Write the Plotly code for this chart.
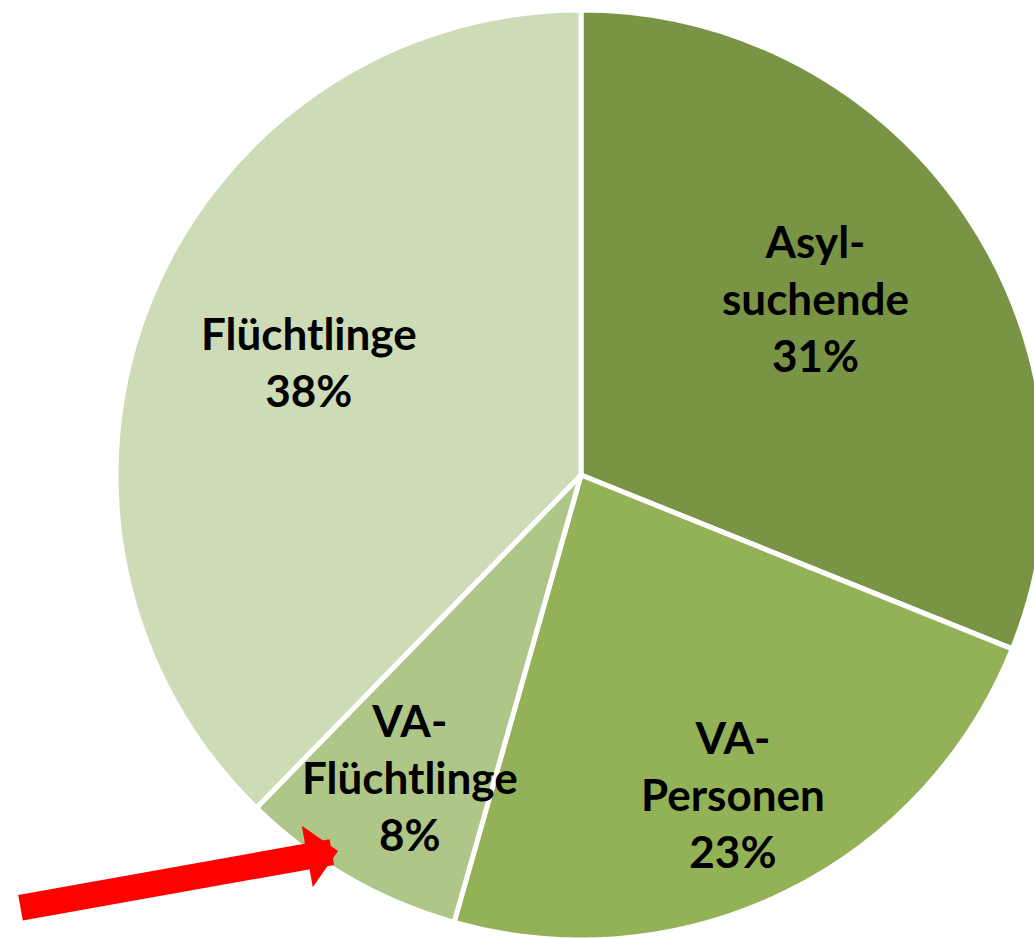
import plotly.graph_objects as go

# ---- data ----
categories = ["Asylsuchende", "VA-Personen", "VA-Flüchtlinge", "Flüchtlinge"]
label_lines = [["Asyl-", "suchende"], ["VA-", "Personen"], ["VA-", "Flüchtlinge"], ["Flüchtlinge"]]
shares = [31.1, 23.3, 7.9, 37.7]          # slice sizes
share_labels = [31, 23, 8, 38]            # percentages as printed
colors = ["#7A9445", "#93B157", "#AEC688", "#CEDBB7"]

# label anchor positions (pixels in figure) for the text blocks
label_px = [(815, 298), (733, 794), (410, 777), (309, 361)]

W, H = 1060, 945
cx, cy, r = 581, 475, 465

fig = go.Figure()
fig.add_trace(go.Pie(
    labels=categories,
    values=shares,
    sort=False,
    direction="clockwise",
    rotation=0,
    marker=dict(colors=colors, line=dict(color="white", width=5)),
    textinfo="none",
    hoverinfo="label",
    showlegend=False,
    domain=dict(x=[(cx - r) / W, (cx + r) / W], y=[1 - (cy + r) / H, 1 - (cy - r) / H]),
))

for lines, v, (px, py) in zip(label_lines, share_labels, label_px):
    fig.add_annotation(
        x=px / W, y=1 - py / H, xref="paper", yref="paper",
        text="<b>" + "<br>".join(lines + [f"{v}%"]) + "</b>",
        showarrow=False, xanchor="center", yanchor="middle",
        font=dict(family="Lato", size=44, color="black"),
    )

# red arrow pointing at VA-Flüchtlinge
tip = (338, 851)
tail = (19, 908)
fig.add_annotation(
    x=tip[0] / W, y=1 - tip[1] / H, xref="paper", yref="paper",
    ax=tail[0] - tip[0], ay=tail[1] - tip[1],
    text="", showarrow=True, arrowhead=1, arrowwidth=26, arrowsize=0.4,
    arrowcolor="#FF0000", standoff=0, startstandoff=0,
)

fig.update_layout(
    width=W, height=H,
    margin=dict(l=0, r=0, t=0, b=0),
    paper_bgcolor="white", plot_bgcolor="white",
)

fig.write_html(
    "out.html",
    config={"displayModeBar": False},
    post_script="document.body.style.margin='0';document.body.style.overflow='hidden';",
)
